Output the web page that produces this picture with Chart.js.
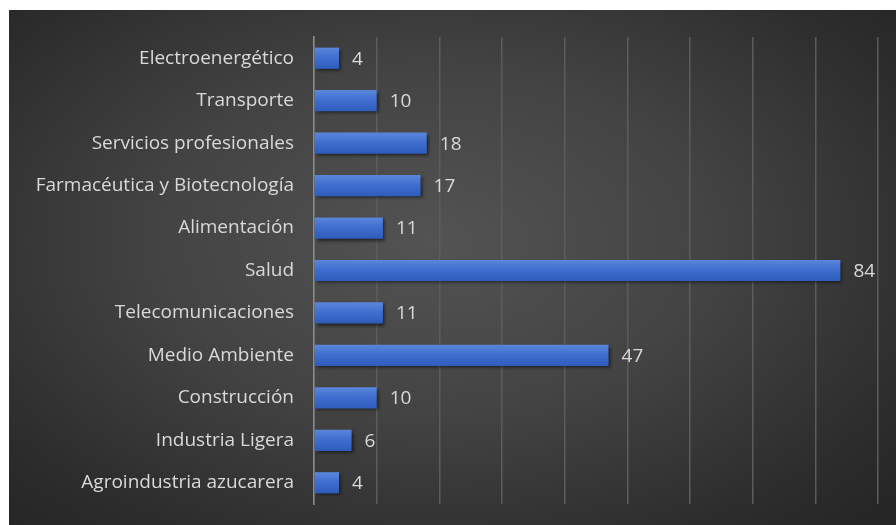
<!DOCTYPE html>
<html>
<head>
<meta charset="utf-8">
<script src="https://cdn.jsdelivr.net/npm/chart.js@4"></script>
<style>
  html, body { margin: 0; padding: 0; background: #ffffff; }
  #wrap {
    position: absolute; left: 9px; top: 10px; width: 887px; height: 515px;
    background: radial-gradient(ellipse 70% 75% at 48% 45%, #535353 0%, #434343 45%, #2c2c2c 85%, #262626 100%);
  }
</style>
</head>
<body>
<div id="wrap"><canvas id="c" width="887" height="515"></canvas></div>
<script>
const categories = [
  "Electroenergético",
  "Transporte",
  "Servicios profesionales",
  "Farmacéutica y Biotecnología",
  "Alimentación",
  "Salud",
  "Telecomunicaciones",
  "Medio Ambiente",
  "Construcción",
  "Industria Ligera",
  "Agroindustria azucarera"
];
const values = [4, 10, 18, 17, 11, 84, 11, 47, 10, 6, 4];
const axisMin = 0;
const axisMax = 90;
const axisStep = 10;

const FONT = "'Open Sans', Lato, sans-serif";
const FONT_SIZE = 19;

const barShadow = {
  id: 'barShadow',
  beforeDatasetsDraw(chart) {
    const c = chart.ctx;
    c.save();
    c.shadowColor = 'rgba(0,0,0,0.55)';
    c.shadowBlur = 3;
    c.shadowOffsetX = 2;
    c.shadowOffsetY = 2;
  },
  afterDatasetsDraw(chart) {
    chart.ctx.restore();
  }
};

const valueLabels = {
  id: 'valueLabels',
  afterDatasetsDraw(chart) {
    const c = chart.ctx;
    const meta = chart.getDatasetMeta(0);
    c.save();
    c.font = FONT_SIZE + "px " + FONT;
    c.fillStyle = '#d9d9d9';
    c.textAlign = 'left';
    c.textBaseline = 'middle';
    meta.data.forEach((bar, i) => {
      c.fillText(String(values[i]), bar.x + 13, bar.y + 1);
    });
    c.restore();
  }
};

function barFill(ctx) {
  const chart = ctx.chart;
  const ys = chart.scales && chart.scales.y;
  if (!ys || ctx.dataIndex === undefined) return '#3d6ccc';
  const yc = ys.getPixelForValue(ctx.dataIndex);
  const h = (ys.bottom - ys.top) / categories.length * 0.5;
  if (!isFinite(yc) || !isFinite(h) || h <= 0) return '#3d6ccc';
  const g = chart.ctx.createLinearGradient(0, yc - h / 2, 0, yc + h / 2);
  g.addColorStop(0, '#5b86da');
  g.addColorStop(0.45, '#3f6fd0');
  g.addColorStop(1, '#2d5cbb');
  return g;
}

new Chart(document.getElementById('c'), {
  type: 'bar',
  data: {
    labels: categories,
    datasets: [{
      data: values,
      backgroundColor: barFill,
      borderWidth: 0,
      barPercentage: 0.5,
      categoryPercentage: 1.0
    }]
  },
  options: {
    indexAxis: 'y',
    responsive: false,
    animation: false,
    devicePixelRatio: 1,
    layout: { padding: { top: 27, bottom: 21, left: 0, right: 18 } },
    plugins: {
      legend: { display: false },
      tooltip: { enabled: false }
    },
    scales: {
      x: {
        min: axisMin, max: axisMax,
        ticks: { display: false, stepSize: axisStep },
        grid: { color: '#5c5c5c', lineWidth: 1.5, drawTicks: false },
        border: { display: false },
        afterFit(scale) { scale.height = 0; }
      },
      y: {
        ticks: {
          color: '#d9d9d9',
          font: { family: FONT, size: FONT_SIZE },
          padding: 2
        },
        grid: { display: false, drawTicks: true, tickLength: 18 },
        border: { display: true, color: '#8c8c8c', width: 1.5 },
        afterFit(scale) { scale.width = 305; }
      }
    }
  },
  plugins: [barShadow, valueLabels]
});
</script>
</body>
</html>
